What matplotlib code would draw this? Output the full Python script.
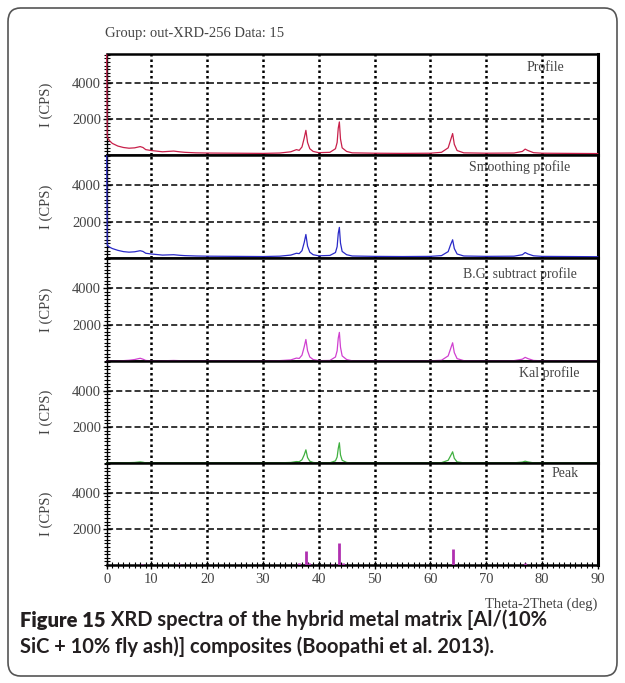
import numpy as np
import matplotlib.pyplot as plt
from matplotlib.patches import FancyBboxPatch
from matplotlib.ticker import MultipleLocator

# 数据
prof_x = [2.0, 2.1, 2.5, 3, 4, 5, 6, 7, 8, 8.5, 9, 10, 12, 14, 15, 16, 18, 20, 25, 30,
          33, 35, 36, 36.5, 37, 37.4, 37.7, 38.0, 38.4, 39, 40, 42, 43, 43.3, 43.5, 43.7,
          43.9, 44.2, 45, 46, 50, 55, 60, 62, 63.2, 63.6, 64.0, 64.3, 64.8, 66, 70, 75,
          76.5, 77.0, 77.5, 78.5, 80, 85, 90]
prof_y = [5600, 1000, 800, 650, 500, 420, 380, 400, 470, 420, 300, 250, 180, 220, 180, 150,
          120, 110, 100, 90, 110, 180, 300, 260, 450, 950, 1380, 700, 350, 200, 130, 150,
          350, 700, 1500, 1850, 900, 400, 200, 120, 100, 90, 100, 150, 400, 800, 1200, 600,
          250, 120, 100, 110, 200, 330, 250, 130, 100, 90, 80]
smooth_y = [5600, 700, 600, 520, 420, 350, 320, 340, 400, 360, 260, 220, 160, 180, 150, 130,
            110, 100, 90, 80, 100, 160, 260, 240, 400, 850, 1290, 650, 320, 180, 120, 140,
            300, 620, 1350, 1680, 820, 360, 180, 110, 90, 80, 90, 130, 350, 700, 1000, 520,
            220, 110, 90, 100, 180, 300, 220, 120, 90, 80, 70]
bg_y = [0, 0, 0, 0, 10, 20, 40, 80, 150, 100, 30, 10, 10, 30, 20, 10,
        10, 10, 10, 10, 20, 60, 160, 140, 320, 780, 1180, 560, 220, 80, 20, 30,
        220, 560, 1250, 1570, 760, 280, 80, 10, 10, 10, 10, 40, 280, 640, 1000, 460,
        130, 20, 10, 20, 100, 200, 130, 30, 10, 10, 10]
kal_y = [0, 0, 0, 0, 0, 10, 20, 30, 60, 40, 10, 0, 0, 10, 10, 0,
         0, 0, 0, 0, 10, 30, 80, 70, 180, 450, 730, 300, 100, 30, 0, 10,
         120, 330, 800, 1120, 450, 150, 30, 0, 0, 0, 0, 20, 150, 380, 620, 260,
         60, 10, 0, 10, 50, 100, 60, 10, 0, 0, 0]
peak_x = [8.3, 15.0, 36.4, 37.7, 38.3, 42.4, 43.7, 44.3, 64.0, 77.0]
peak_h = [80, 40, 100, 800, 120, 60, 1215, 90, 900, 120]

panel_names = ["Profile", "Smoothing profile", "B.G. subtract profile", "Kal profile", "Peak"]
panel_colors = ["#c8204a", "#2a2ac8", "#d040d0", "#40b040", "#b030b0"]
x_ticks = [2, 10, 20, 30, 40, 50, 60, 70, 80, 90]
x_tick_labels = ["0", "10", "20", "30", "40", "50", "60", "70", "80", "90"]
y_ticks = [2000, 4000]

# 标题位置（轴坐标）
title_pos = [(0.931, 0.862), (0.944, 0.882), (0.958, 0.84), (0.962, 0.882), (0.962, 0.90)]

serif = "Liberation Serif"
gray = "#444444"

fig = plt.figure(figsize=(6.25, 6.83), dpi=100)
W, H = 625, 683
left, right = 106.7 / W, 597.7 / W
tops = [54, 155, 258, 361, 463, 565]

series = [prof_y, smooth_y, bg_y, kal_y, None]
axes = []
for i in range(5):
    y0 = 1 - tops[i + 1] / H
    h = (tops[i + 1] - tops[i]) / H
    ax = fig.add_axes([left, y0, right - left, h])
    axes.append(ax)
    ax.set_xlim(2, 90)
    ax.set_ylim(0, 5650)
    for xv in range(10, 90, 10):
        ax.axvline(xv, color="k", lw=1.8, ls=(0, (1, 1.2)), zorder=1)
    for yv in y_ticks:
        ax.axhline(yv, color="k", lw=1.1, ls=(0, (4, 2)), zorder=1)
    if series[i] is not None:
        ax.plot(prof_x, series[i], color=panel_colors[i], lw=0.9, zorder=4, clip_on=False)
    else:
        ax.vlines(peak_x, 0, peak_h, color=panel_colors[i], lw=2, zorder=3)
    ax.set_yticks(y_ticks)
    ax.set_yticklabels([str(v) for v in y_ticks], family=serif, fontsize=10.5, color=gray)
    ax.yaxis.set_minor_locator(MultipleLocator(200))
    ax.tick_params(axis="y", which="major", direction="inout", length=6, width=1, pad=1)
    ax.tick_params(axis="y", which="minor", direction="inout", length=4, width=0.8)
    ax.set_ylabel("I (CPS)", family=serif, fontsize=10.5, color=gray, labelpad=14)
    ax.spines["left"].set_linewidth(1)
    ax.spines["right"].set_linewidth(2.2)
    ax.spines["top"].set_linewidth(1.8)
    ax.spines["bottom"].set_linewidth(1.8)
    tx, ty = title_pos[i]
    ax.text(tx, ty, panel_names[i], transform=ax.transAxes, ha="right", va="center",
            family=serif, fontsize=10, color=gray)
    ax.set_xticks(x_ticks)
    if i < 4:
        ax.tick_params(axis="x", which="both", bottom=False, labelbottom=False)
    else:
        ax.set_xticklabels(x_tick_labels, family=serif, fontsize=10.5, color=gray)
        ax.xaxis.set_minor_locator(MultipleLocator(1))
        ax.tick_params(axis="x", which="major", direction="inout", length=6, width=1, pad=3)
        ax.tick_params(axis="x", which="minor", direction="inout", length=4, width=0.8)
        ax.set_xlabel("Theta-2Theta (deg)", family=serif, fontsize=10.5, color=gray,
                      loc="right", labelpad=8)

fig.text(105 / W, 1 - 34 / H, "Group: out-XRD-256 Data: 15", family=serif, fontsize=10.5,
         color=gray, va="center")

# 外框
frame = FancyBboxPatch((8 / W, 7 / H), 609 / W, 668 / H,
                       boxstyle="round,pad=0,rounding_size=0.02",
                       transform=fig.transFigure, fill=False, ec="#555555", lw=1.2)
fig.add_artist(frame)

# 图注
cap_color = "#231f20"
cap_font = "Lato"
t1 = fig.text(20 / W, 1 - 620 / H, "Figure 15", family=cap_font, weight="heavy",
              fontsize=14.5, color=cap_color, va="center")
axes[0].annotate(" XRD spectra of the hybrid metal matrix [Al/(10%", xy=(1, 0.5),
                 xycoords=t1, va="center", ha="left", family=cap_font, weight="bold",
                 fontsize=14.5, color=cap_color, annotation_clip=False)
fig.text(20 / W, 1 - 647 / H, "SiC + 10% fly ash)] composites (Boopathi et al. 2013).",
         family=cap_font, weight="bold", fontsize=14.5, color=cap_color, va="center")

fig.savefig("out.png", dpi=100)
